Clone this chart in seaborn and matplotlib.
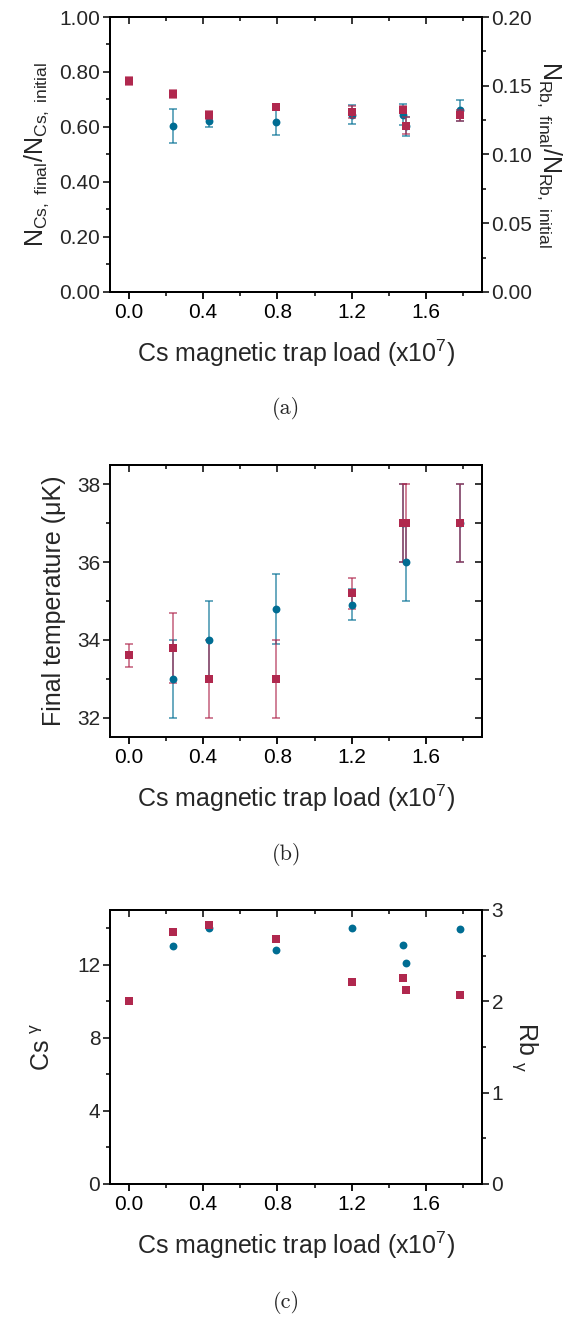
import numpy as np
import pandas as pd
import matplotlib
matplotlib.use('Agg')
import matplotlib.pyplot as plt
from matplotlib.ticker import MultipleLocator, FormatStrFormatter
import seaborn as sns

# Cs magnetic trap load (x10^7); Cs has no point at zero load
load_rb = [0.0, 0.24, 0.43, 0.79, 1.2, 1.475, 1.49, 1.78]
load_cs = [0.24, 0.43, 0.79, 1.2, 1.475, 1.49, 1.78]

# (a) number ratios
cs_ratio = [0.602, 0.622, 0.619, 0.645, 0.644, 0.602, 0.66]
cs_ratio_err = [0.062, 0.022, 0.05, 0.035, 0.038, 0.035, 0.039]
rb_ratio = [0.1535, 0.144, 0.1285, 0.1345, 0.1307, 0.1326, 0.121, 0.1285]
rb_ratio_err = [0.003, 0.003, 0.003, 0.0024, 0.0045, 0.0027, 0.006, 0.0038]

# (b) final temperature (uK)
cs_temp = [33.0, 34.0, 34.8, 34.9, 37.0, 36.0, 37.0]
cs_temp_err = [1.0, 1.0, 0.9, 0.4, 1.0, 1.0, 1.0]
rb_temp = [33.6, 33.8, 33.0, 33.0, 35.2, 37.0, 37.0, 37.0]
rb_temp_err = [0.3, 0.9, 1.0, 1.0, 0.4, 1.0, 1.0, 1.0]

# (c) gamma
cs_gamma = [13.04, 14.03, 12.8, 14.03, 13.1, 12.07, 13.94]
rb_gamma = [2.006, 2.754, 2.838, 2.678, 2.214, 2.258, 2.122, 2.071]

cs_df = pd.DataFrame({'load': load_cs, 'ratio': cs_ratio, 'temp': cs_temp, 'gamma': cs_gamma})
rb_df = pd.DataFrame({'load': load_rb, 'ratio': rb_ratio, 'temp': rb_temp, 'gamma': rb_gamma})

sns.set_style('ticks')
plt.rcParams['font.family'] = ['Liberation Sans', 'DejaVu Sans']
plt.rcParams['mathtext.fontset'] = 'custom'
plt.rcParams['mathtext.rm'] = 'Liberation Sans'
plt.rcParams['mathtext.it'] = 'Liberation Sans:italic'
plt.rcParams['mathtext.sf'] = 'Liberation Sans'
plt.rcParams['axes.linewidth'] = 1.4
plt.rcParams['axes.edgecolor'] = 'black'

blue = '#006d93'
red = '#b0284e'
tick_fs = 15
label_fs = 18

fig = plt.figure(figsize=(5.73, 13.18), dpi=100)
ax_a = fig.add_axes([0.192, 0.7785, 0.649, 0.2086])
ax_b = fig.add_axes([0.192, 0.4408, 0.649, 0.2064])
ax_c = fig.add_axes([0.192, 0.1017, 0.649, 0.2079])


def style_x(ax):
    ax.set_xlim(-0.1, 1.9)
    ax.xaxis.set_major_locator(MultipleLocator(0.4))
    ax.xaxis.set_minor_locator(MultipleLocator(0.2))
    ax.xaxis.set_major_formatter(FormatStrFormatter('%.1f'))
    ax.tick_params(axis='x', which='major', direction='out', length=5, width=1.3,
                   labelsize=tick_fs, colors='black', pad=3)
    ax.tick_params(axis='x', which='minor', direction='out', length=3, width=1.3)
    ax.tick_params(axis='y', which='major', direction='out', length=5, width=1.3,
                   labelsize=tick_fs, pad=2)
    ax.tick_params(axis='y', which='minor', direction='out', length=3, width=1.3)
    ax.set_xlabel(r'Cs magnetic trap load (x10$^{7}$)', fontsize=label_fs, labelpad=11)
    # inward ticks on top
    top = ax.secondary_xaxis('top')
    top.xaxis.set_major_locator(MultipleLocator(0.4))
    top.xaxis.set_minor_locator(MultipleLocator(0.2))
    top.tick_params(which='major', direction='in', length=5, width=1.3, labeltop=False)
    top.tick_params(which='minor', direction='in', length=3, width=1.3)
    for s in ax.spines.values():
        s.set_visible(True)


def points(ax, df, col, color, marker, err=None):
    if err is not None:
        ax.errorbar(df['load'], df[col], yerr=err, fmt='none', ecolor=color, alpha=0.75,
                    elinewidth=1.1, capsize=3, capthick=1.1)
    sns.scatterplot(data=df, x='load', y=col, color=color, marker=marker, s=32,
                    linewidth=0, ax=ax, legend=False, zorder=3)


# ---- (a)
style_x(ax_a)
points(ax_a, cs_df, 'ratio', blue, 'o', cs_ratio_err)
ax_a.set_ylim(0, 1.0)
ax_a.yaxis.set_major_locator(MultipleLocator(0.2))
ax_a.yaxis.set_minor_locator(MultipleLocator(0.1))
ax_a.yaxis.set_major_formatter(FormatStrFormatter('%.2f'))
ax_a.set_ylabel(r'$\mathregular{N_{Cs,\ final}/N_{Cs,\ initial}}$', fontsize=label_fs, labelpad=6)
ax_a.set_xlabel(r'Cs magnetic trap load (x10$^{7}$)', fontsize=label_fs, labelpad=11)
ax_a2 = ax_a.twinx()
points(ax_a2, rb_df, 'ratio', red, 's', rb_ratio_err)
ax_a2.set_ylim(0, 0.2)
ax_a2.yaxis.set_major_locator(MultipleLocator(0.05))
ax_a2.yaxis.set_minor_locator(MultipleLocator(0.025))
ax_a2.yaxis.set_major_formatter(FormatStrFormatter('%.2f'))
ax_a2.tick_params(axis='y', which='major', direction='out', length=5, width=1.3,
                  labelsize=tick_fs, pad=2)
ax_a2.tick_params(axis='y', which='minor', direction='out', length=3, width=1.3)
ax_a2.set_ylabel(r'$\mathregular{N_{Rb,\ final}/N_{Rb,\ initial}}$', fontsize=label_fs,
                 rotation=270, labelpad=22)

# ---- (b)
style_x(ax_b)
points(ax_b, cs_df, 'temp', blue, 'o', cs_temp_err)
points(ax_b, rb_df, 'temp', red, 's', rb_temp_err)
ax_b.set_ylim(31.5, 38.5)
ax_b.yaxis.set_major_locator(MultipleLocator(2))
ax_b.yaxis.set_minor_locator(MultipleLocator(1))
ax_b.yaxis.set_major_formatter(FormatStrFormatter('%d'))
ax_b.set_ylabel('Final temperature (μK)', fontsize=label_fs, labelpad=8)
right_b = ax_b.secondary_yaxis('right')
right_b.yaxis.set_major_locator(MultipleLocator(2))
right_b.yaxis.set_minor_locator(MultipleLocator(1))
right_b.tick_params(which='major', direction='in', length=5, width=1.3, labelright=False)
right_b.tick_params(which='minor', direction='in', length=5, width=1.3)

# ---- (c)
style_x(ax_c)
points(ax_c, cs_df, 'gamma', blue, 'o')
ax_c.set_ylim(0, 15)
ax_c.yaxis.set_major_locator(MultipleLocator(4))
ax_c.yaxis.set_minor_locator(MultipleLocator(2))
ax_c.yaxis.set_major_formatter(FormatStrFormatter('%d'))
ax_c.set_ylabel(r'Cs $\mathregular{^{\gamma}}$', fontsize=label_fs, labelpad=16)
ax_c2 = ax_c.twinx()
points(ax_c2, rb_df, 'gamma', red, 's')
ax_c2.set_ylim(0, 3)
ax_c2.yaxis.set_major_locator(MultipleLocator(1))
ax_c2.yaxis.set_minor_locator(MultipleLocator(0.5))
ax_c2.yaxis.set_major_formatter(FormatStrFormatter('%d'))
ax_c2.tick_params(axis='y', which='major', direction='out', length=5, width=1.3,
                  labelsize=tick_fs, pad=2)
ax_c2.tick_params(axis='y', which='minor', direction='out', length=3, width=1.3)
ax_c2.set_ylabel(r'Rb $\mathregular{_{\gamma}}$', fontsize=label_fs, rotation=270, labelpad=26)

for ax in [ax_a, ax_a2, ax_c, ax_c2]:
    for s in ax.spines.values():
        s.set_visible(True)
        s.set_linewidth(1.4)

fig.text(0.5, 1 - 408 / 1318, '(a)', ha='center', va='center', fontsize=16, family='cmr10')
fig.text(0.5, 1 - 855 / 1318, '(b)', ha='center', va='center', fontsize=16, family='cmr10')
fig.text(0.5, 1 - 1302 / 1318, '(c)', ha='center', va='center', fontsize=16, family='cmr10')

fig.savefig('out.png', dpi=100)
